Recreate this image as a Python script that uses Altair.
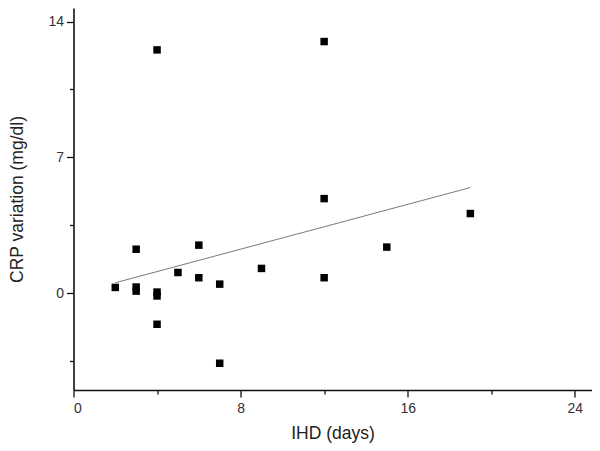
import altair as alt
import pandas as pd

# Data
ihd_days = [2, 3, 3, 3, 4, 4, 4, 4, 5, 6, 6, 7, 7, 9, 12, 12, 12, 15, 19]
crp_variation = [0.29, 2.26, 0.31, 0.10, 12.54, 0.05, -0.15, -1.61, 1.06, 2.47,
                 0.79, 0.46, -3.62, 1.27, 12.97, 4.87, 0.79, 2.37, 4.10]
fit_x = [2, 19]
fit_y = [0.53, 5.44]
x_tick_values = [0, 4, 8, 12, 16, 20, 24]
y_tick_values = [-3.5, 0, 3.5, 7, 10.5, 14]

pts = pd.DataFrame({"x": ihd_days, "y": crp_variation})
fit = pd.DataFrame({"x": fit_x, "y": fit_y})

FONT = "Liberation Sans"

x_scale = alt.Scale(domain=[0, 24.8], nice=False, zero=False)
y_scale = alt.Scale(domain=[-5, 14.7], nice=False, zero=False)

x_axis = alt.Axis(
    title="IHD (days)",
    values=x_tick_values,
    labelExpr="datum.value % 8 == 0 ? datum.label : ''",
    tickSize={"condition": {"test": "datum.value % 8 != 0", "value": 4}, "value": 7},
    grid=False,
    labelFontSize=14,
    titleFontSize=17.5,
    titleFontWeight="normal",
    labelPadding=4,
    titlePadding=9,
)
y_axis = alt.Axis(
    title="CRP variation (mg/dl)",
    values=y_tick_values,
    labelExpr="datum.value % 7 == 0 ? datum.label : ''",
    tickSize={"condition": {"test": "datum.value % 7 != 0", "value": 4}, "value": 7},
    grid=False,
    labelFontSize=14,
    titleFontSize=17.5,
    titleFontWeight="normal",
    labelPadding=3,
    titlePadding=21,
)

points = alt.Chart(pts).mark_square(size=56, color="black", opacity=1).encode(
    x=alt.X("x:Q", scale=x_scale, axis=x_axis),
    y=alt.Y("y:Q", scale=y_scale, axis=y_axis),
)

line = alt.Chart(fit).mark_line(color="#7a7a7a", strokeWidth=1).encode(
    x=alt.X("x:Q", scale=x_scale),
    y=alt.Y("y:Q", scale=y_scale),
)

chart = alt.layer(line, points).properties(
    width=518,
    height=382,
    autosize=alt.AutoSizeParams(type="none"),
    padding={"left": 65.5, "top": 0, "right": 0, "bottom": 53},
).configure_view(stroke=None).configure_axis(
    domainColor="#111",
    domainWidth=1.6,
    tickColor="#111",
    tickWidth=1.3,
    labelFont=FONT,
    titleFont=FONT,
    labelColor="#333",
    titleColor="#222",
)

chart.save("out.html", embed_options={"renderer": "svg", "actions": False})
